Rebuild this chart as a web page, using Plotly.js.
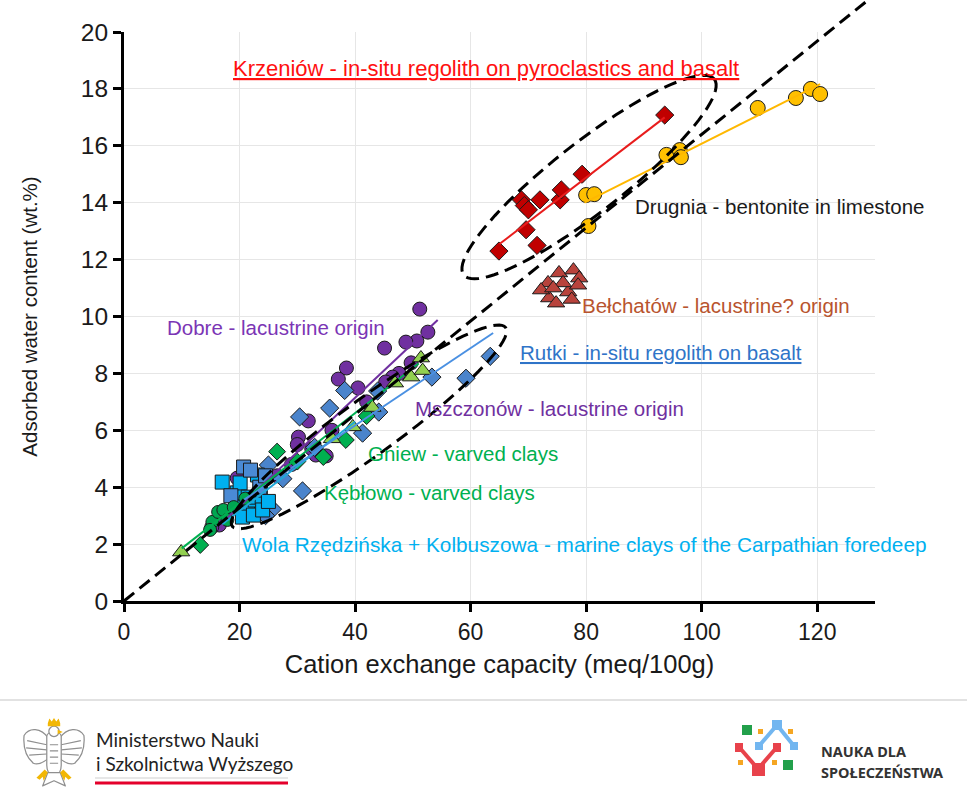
<!DOCTYPE html>
<html>
<head>
<meta charset="utf-8">
<script src="https://cdn.plot.ly/plotly-3.0.1.min.js"></script>
<style>
  html, body { margin: 0; padding: 0; background: #fff; }
  #chart { width: 967px; height: 800px; }
</style>
</head>
<body>
<div id="chart"></div>
<script>
/* ── Data ── */
var krzeniowX = [64.9, 68.8, 69.3, 70.0, 69.6, 71.5, 72.0, 75.5, 75.7, 79.3, 93.6];
var krzeniowY = [12.3, 14.1, 13.9, 13.75, 13.05, 12.5, 14.1, 14.1, 14.45, 15.0, 17.08];
var krzeniowFitX = [65.0, 93.6];
var krzeniowFitY = [12.55, 17.0];

var drugniaX = [80.0, 81.4, 80.4, 93.9, 96.2, 96.4, 109.7, 116.3, 118.9, 120.5];
var drugniaY = [14.27, 14.3, 13.18, 15.68, 15.85, 15.6, 17.33, 17.68, 18.0, 17.82];
var drugniaFitX = [79.7, 120.5];
var drugniaFitY = [14.0, 18.17];

var belchatowX = [73.4, 75.3, 77.8, 78.8, 73.6, 74.8, 76.9, 78.6, 72.2, 76.0, 74.3, 77.5];
var belchatowY = [11.18, 11.53, 11.63, 11.35, 10.65, 10.47, 10.86, 11.1, 10.93, 11.18, 11.0, 10.6];

var rutkiX = [63.4, 59.2, 53.3, 44.1, 43.9, 38.2, 35.6, 30.4, 41.3, 30.9, 25.7, 25.0, 24.5, 27.5, 33.0];
var rutkiY = [8.6, 7.83, 7.87, 6.64, 7.38, 7.4, 6.78, 6.47, 5.9, 3.87, 3.23, 4.78, 3.0, 4.3, 5.4];
var rutkiFitX = [20.0, 63.9];
var rutkiFitY = [3.45, 9.42];

var dobreX = [51.2, 52.6, 50.7, 48.8, 45.1, 38.5, 37.1, 40.5, 31.9, 30.2, 19.6, 16.5, 15.2, 33.2, 35.0];
var dobreY = [10.26, 9.45, 9.14, 9.1, 8.89, 8.19, 7.8, 7.49, 6.33, 5.76, 4.32, 2.67, 2.6, 5.13, 5.1];
var dobreFitX = [17.0, 54.3];
var dobreFitY = [2.75, 9.88];

var mszczonowX = [49.7, 47.6, 46.5, 45.3, 42.0, 36.0, 32.5, 29.0, 26.5, 22.5, 30.0];
var mszczonowY = [8.37, 8.0, 7.87, 7.7, 7.0, 6.0, 5.35, 4.8, 4.4, 3.6, 5.5];

var gniewX = [13.2, 26.5, 34.5, 38.4, 30.0, 42.0];
var gniewY = [1.97, 5.25, 5.06, 5.66, 4.9, 6.5];

var greenDotsX = [15.3, 14.9, 16.3, 17.2, 17.9, 19.0, 21.0];
var greenDotsY = [2.78, 2.5, 3.13, 3.2, 2.85, 3.3, 3.6];

var keblowoX = [9.9, 39.6, 46.9, 49.7, 51.4, 51.7, 36.0, 43.0];
var keblowoY = [1.72, 6.12, 7.66, 7.87, 8.54, 8.1, 5.7, 6.8];
var keblowoFitX = [10.0, 51.0];
var keblowoFitY = [1.85, 8.35];

var wolaX = [17.0, 23.1, 19.6, 19.3, 21.4, 22.7, 23.6, 20.5, 22.4, 20.1, 24.0, 21.5, 25.0];
var wolaY = [4.18, 4.43, 3.8, 3.3, 3.13, 3.55, 3.9, 2.95, 3.02, 4.15, 3.2, 3.65, 3.5];
var kolbuszowaX = [20.7, 21.9, 23.5, 18.5, 24.5];
var kolbuszowaY = [4.71, 4.6, 4.0, 3.7, 4.4];
var wolaFitX = [17.0, 40.0];
var wolaFitY = [2.7, 6.3];

var oneToOneSlope = 0.164;   /* dashed reference line through the origin */

var xTicks = [0, 20, 40, 60, 80, 100, 120];
var yTicks = [0, 2, 4, 6, 8, 10, 12, 14, 16, 18, 20];

(function () {
  'use strict';

  var FONT = '"Liberation Sans", Arial, sans-serif';
  var W = 967, H = 800, ML = 124, MR = 92, MT = 32, MB = 199;
  var X_RANGE = [0, 130], Y_RANGE = [0, 20];
  var plotW = W - ML - MR, plotH = H - MT - MB;
  var pxPerX = plotW / (X_RANGE[1] - X_RANGE[0]);
  var pxPerY = plotH / (Y_RANGE[1] - Y_RANGE[0]);

  function paperX(px) { return (px - ML) / plotW; }
  function paperY(py) { return (H - MB - py) / plotH; }

  /* rotated ellipse, semi-axes given in screen pixels */
  function ellipsePath(cx, cy, a, b, deg) {
    var t = deg * Math.PI / 180, pts = [];
    for (var i = 0; i <= 90; i++) {
      var p = i / 90 * 2 * Math.PI;
      var dx = a * Math.cos(p) * Math.cos(t) - b * Math.sin(p) * Math.sin(t);
      var dy = a * Math.cos(p) * Math.sin(t) + b * Math.sin(p) * Math.cos(t);
      pts.push((cx + dx / pxPerX).toFixed(3) + ',' + (cy + dy / pxPerY).toFixed(3));
    }
    return 'M' + pts.join('L') + 'Z';
  }

  function pts(x, y, symbol, color, size) {
    return {
      x: x, y: y, type: 'scatter', mode: 'markers', showlegend: false,
      marker: { symbol: symbol, size: size, color: color, line: { color: '#1a1a1a', width: 1 } },
      hoverinfo: 'x+y',
    };
  }

  function fit(x, y, color) {
    return {
      x: x, y: y, type: 'scatter', mode: 'lines', showlegend: false,
      line: { color: color, width: 2 }, hoverinfo: 'skip',
    };
  }

  var traces = [
    pts(dobreX, dobreY, 'circle', '#7030A0', 14),
    pts(mszczonowX, mszczonowY, 'circle', '#7030A0', 14),
    pts(rutkiX, rutkiY, 'diamond', '#4A84CC', 14),
    pts(wolaX, wolaY, 'square', '#00B0F0', 14),
    pts(kolbuszowaX, kolbuszowaY, 'square', '#4A8AD4', 14),
    pts(greenDotsX, greenDotsY, 'circle', '#00A651', 13),
    pts(gniewX, gniewY, 'diamond', '#00B050', 13),
    pts(keblowoX, keblowoY, 'triangle-up', '#92D050', 15),
    pts(krzeniowX, krzeniowY, 'diamond', '#C00000', 14),
    pts(drugniaX, drugniaY, 'circle', '#FFC000', 15),
    pts(belchatowX, belchatowY, 'triangle-up', '#B8433C', 15),
    fit(dobreFitX, dobreFitY, '#7030A0'),
    fit(keblowoFitX, keblowoFitY, '#00B050'),
    fit(wolaFitX, wolaFitY, '#1FA8D8'),
    fit(rutkiFitX, rutkiFitY, '#4A90E2'),
    fit(krzeniowFitX, krzeniowFitY, '#E81C1C'),
    fit(drugniaFitX, drugniaFitY, '#FFB800'),
  ];

  var DASH = { color: '#000', width: 3, dash: '13px,7px' };

  var shapes = [
    { type: 'line', xref: 'x', yref: 'paper', layer: 'above',
      x0: 0, y0: 0, x1: X_RANGE[1], y1: X_RANGE[1] * oneToOneSlope / Y_RANGE[1], line: DASH },
    { type: 'path', xref: 'x', yref: 'y', layer: 'above',
      path: ellipsePath(80.5, 14.9, 159, 35, 38), line: DASH },
    { type: 'path', xref: 'x', yref: 'y', layer: 'above',
      path: ellipsePath(42.4, 6.12, 169, 28, 36), line: DASH },
    /* footer separator */
    { type: 'line', xref: 'paper', yref: 'paper', x0: paperX(0), x1: paperX(W),
      y0: paperY(700), y1: paperY(700), line: { color: '#E2E2E2', width: 2 } },
    /* ministry underline */
    { type: 'line', xref: 'paper', yref: 'paper', x0: paperX(95), x1: paperX(288),
      y0: paperY(778), y1: paperY(778), line: { color: '#CFCFCF', width: 1 } },
    { type: 'line', xref: 'paper', yref: 'paper', x0: paperX(95), x1: paperX(288),
      y0: paperY(783), y1: paperY(783), line: { color: '#E4002B', width: 3 } },
  ];

  /* "Nauka dla Społeczeństwa" mark */
  function rect(x0, y0, x1, y1, color) {
    shapes.push({ type: 'rect', xref: 'paper', yref: 'paper', layer: 'above',
      x0: paperX(x0), x1: paperX(x1), y0: paperY(y0), y1: paperY(y1),
      fillcolor: color, line: { width: 0 } });
  }
  function seg(x0, y0, x1, y1, color) {
    shapes.push({ type: 'line', xref: 'paper', yref: 'paper', layer: 'above',
      x0: paperX(x0), x1: paperX(x1), y0: paperY(y0), y1: paperY(y1),
      line: { color: color, width: 4 } });
  }
  var LB = '#72B6F0', LR = '#E8424B', LG = '#22A04B', LY = '#F5A623';
  seg(777, 725, 759, 746, LB); seg(777, 725, 794, 746, LB);
  rect(772, 720, 782, 730, LB); rect(755, 742, 763, 750, LB); rect(790, 742, 798, 750, LB);
  seg(739, 747, 758, 769, LR); seg(777, 747, 758, 769, LR);
  rect(735, 743, 743, 752, LR); rect(773, 743, 781, 752, LR); rect(752, 763, 765, 776, LR);
  rect(742, 725, 752, 735, LG); rect(783, 760, 793, 770, LG);
  rect(758, 729, 763, 734, LY); rect(788, 729, 793, 734, LY);
  rect(738, 760, 743, 765, LY); rect(772, 760, 777, 765, LY);

  function label(x, y, text, color, anchor, size) {
    return { x: x, y: y, xref: 'x', yref: 'y', text: text, showarrow: false,
      xanchor: anchor || 'left', yanchor: 'middle',
      font: { family: FONT, size: size || 20.5, color: color } };
  }
  function footText(px, py, text, font) {
    return { x: paperX(px), y: paperY(py), xref: 'paper', yref: 'paper', text: text,
      showarrow: false, xanchor: 'left', yanchor: 'middle', font: font };
  }

  var annotations = [
    label(62.7, 18.73, '<u>Krzeniów - in-situ regolith on pyroclastics and basalt</u>', '#FF1010', 'center', 22),
    label(88.1, 13.85, 'Drugnia - bentonite in limestone', '#1a1a1a'),
    label(78.9, 10.4, 'Bełchatów - lacustrine? origin', '#B8542E'),
    label(68.2, 8.72, '<u>Rutki - in-situ regolith on basalt</u>', '#2F74C8'),
    label(7.1, 9.6, 'Dobre - lacustrine origin', '#7B35B5'),
    label(50.0, 6.78, 'Mszczonów - lacustrine origin', '#7030A0'),
    label(41.9, 5.2, 'Gniew - varved clays', '#00B050'),
    label(34.3, 3.8, 'Kębłowo - varved clays', '#00B050'),
    label(20.1, 2.0, 'Wola Rzędzińska + Kolbuszowa - marine clays of the Carpathian foredeep', '#00B0F0', 'left', 20.8),
    footText(94, 739, 'Ministerstwo Nauki', { family: 'Lato, sans-serif', size: 19, color: '#222' }),
    footText(94, 763, 'i Szkolnictwa Wyższego', { family: 'Lato, sans-serif', size: 19, color: '#222' }),
    footText(819, 751, '<b>NAUKA DLA</b>', { family: '"Noto Sans", sans-serif', size: 14.5, color: '#333' }),
    footText(819, 772, '<b>SPOŁECZEŃSTWA</b>', { family: '"Noto Sans", sans-serif', size: 14.5, color: '#333' }),
  ];

  var eagle =
    "<svg xmlns='http://www.w3.org/2000/svg' viewBox='0 0 62 70'>" +
    "<g fill='#fff' stroke='#8f8f8f' stroke-width='1.2' stroke-linejoin='round'>" +
    "<path d='M26 20 C18 9 7 9 2 17 C1 28 4 38 11 44 C15 46 21 43 26 39 Z'/>" +
    "<path d='M36 20 C44 9 55 9 60 17 C61 28 58 38 51 44 C47 46 41 43 36 39 Z'/>" +
    "<path d='M5 22 L24 26 M4 29 L24 31 M7 36 L24 35 M57 22 L38 26 M58 29 L38 31 M55 36 L38 35'/>" +
    "<path d='M24 18 C24 12 38 12 38 18 L38 46 C38 53 34 57 31 59 C28 57 24 53 24 46 Z'/>" +
    "<path d='M25 53 L20 66 L31 61 L42 66 L37 53 Z'/>" +
    "<path d='M27 26 L35 26 M27 32 L35 32 M27 38 L35 38 M27 44 L35 44'/>" +
    "<circle cx='31' cy='13' r='5'/></g>" +
    "<path d='M25 5 L26.5 0.5 L28.8 3.5 L31 0 L33.2 3.5 L35.5 0.5 L37 5 L37 8 L25 8 Z' fill='#F2B705'/>" +
    "<path d='M34.5 11.5 L39.5 13.5 L34.5 15.5 Z' fill='#F2B705'/>" +
    "<path d='M22 50 L14 58 L17 60 L20 57 L21 61 L25 53 Z M40 50 L48 58 L45 60 L42 57 L41 61 L37 53 Z' fill='#F2B705'/>" +
    "</svg>";

  var images = [{
    source: 'data:image/svg+xml;charset=utf-8,' + encodeURIComponent(eagle),
    xref: 'paper', yref: 'paper', x: paperX(22), y: paperY(718),
    sizex: 64 / plotW, sizey: 72 / plotH, xanchor: 'left', yanchor: 'top',
    sizing: 'stretch', layer: 'above',
  }];

  var axisCommon = {
    showline: true, linecolor: '#000', linewidth: 3,
    ticks: 'outside', ticklen: 8, tickwidth: 3, tickcolor: '#000',
    showgrid: true, gridcolor: '#E6E6E6', gridwidth: 1,
    zeroline: false, fixedrange: true,
  };

  var layout = {
    width: W, height: H,
    margin: { l: ML, r: MR, t: MT, b: MB },
    paper_bgcolor: '#fff', plot_bgcolor: '#fff',
    font: { family: FONT },
    showlegend: false,
    xaxis: Object.assign({}, axisCommon, {
      range: X_RANGE, tickvals: xTicks,
      tickfont: { family: FONT, size: 23, color: '#1a1a1a' },
      title: { text: 'Cation exchange capacity (meq/100g)', standoff: 12,
        font: { family: FONT, size: 25.5, color: '#1a1a1a' } },
    }),
    yaxis: Object.assign({}, axisCommon, {
      range: Y_RANGE, tickvals: yTicks,
      tickfont: { family: FONT, size: 24.5, color: '#1a1a1a' },
      title: { text: 'Adsorbed water content (wt.%)', standoff: 38,
        font: { family: FONT, size: 20.5, color: '#1a1a1a' } },
    }),
    shapes: shapes,
    annotations: annotations,
    images: images,
  };

  Plotly.newPlot('chart', traces, layout, { displayModeBar: false, staticPlot: true });
})();
</script>
</body>
</html>
